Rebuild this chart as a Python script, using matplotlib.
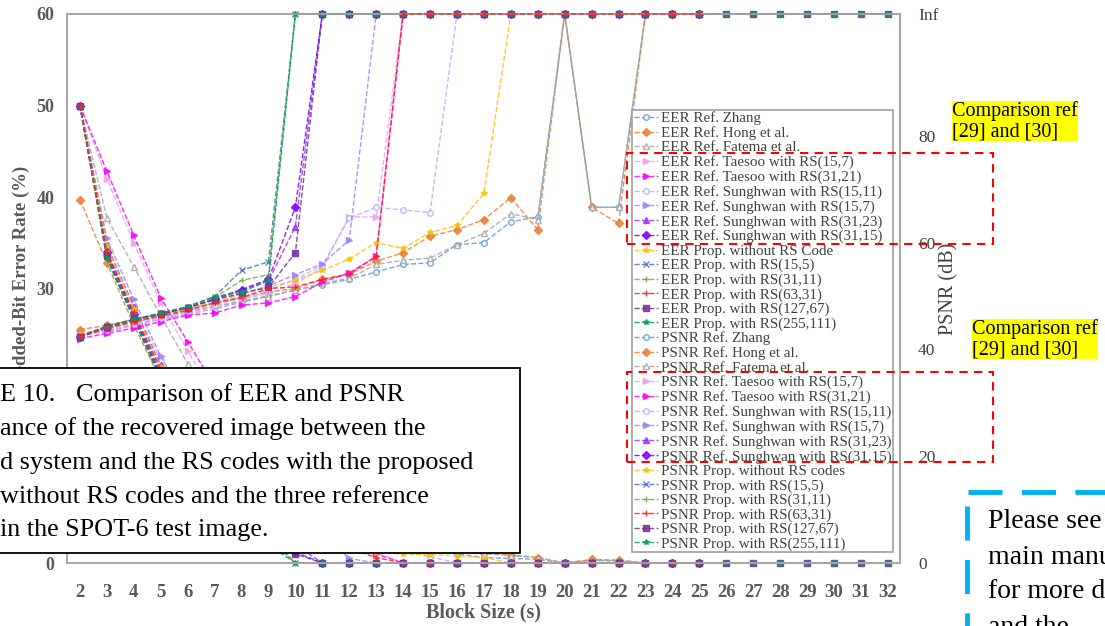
import numpy as np
import matplotlib.pyplot as plt
from matplotlib.lines import Line2D
from matplotlib.patches import Rectangle

plt.rcParams['font.family'] = ['Liberation Serif', 'DejaVu Serif']

NA = np.nan
INF = 102.8   # value printed as "Inf" on the PSNR axis

block_size = list(range(2, 33))

methods = ["Ref. Zhang", "Ref. Hong et al.", "Ref. Fatema et al.",
           "Ref. Taesoo with RS(15,7)", "Ref. Taesoo with RS(31,21)",
           "Ref. Sunghwan with RS(15,11)", "Ref. Sunghwan with RS(15,7)",
           "Ref. Sunghwan with RS(31,23)", "Ref. Sunghwan with RS(31,15)",
           "Prop. without RS Code", "Prop. with RS(15,5)", "Prop. with RS(31,11)",
           "Prop. with RS(63,31)", "Prop. with RS(127,67)", "Prop. with RS(255,111)"]

# embedded-bit error rate (%)
eer_zhang = [50.0, 33.8, 27.2, 21.0, 16.0, 12.2, 9.4, 7.2, 5.6, 4.4, 3.4, 2.7, 2.1, 1.6, 1.0, 0.6,
             0.5, 0.4, 0.0, 0.3, 0.2, 0.0, 0.0, 0.0, NA, NA, NA, NA, NA, NA, NA]
eer_hong = [39.7, 32.8, 26.0, 20.0, 15.2, 11.5, 8.8, 6.8, 5.3, 4.1, 3.2, 2.5, 2.0, 1.6, 1.3, 1.1,
            0.9, 0.6, 0.0, 0.4, 0.3, 0.0, 0.0, 0.0, NA, NA, NA, NA, NA, NA, NA]
eer_fatema = [50.0, 37.7, 32.4, 27.0, 21.8, 17.0, 13.2, 10.0, 7.6, 5.7, 4.3, 3.2, 2.4, 1.8, 1.3, 1.0,
              0.8, 0.6, 0.0, 0.3, 0.3, 0.0, 0.0, 0.0, NA, NA, NA, NA, NA, NA, NA]
eer_taesoo_15_7 = [50.0, 42.0, 35.0, 28.4, 23.2, 18.0, 13.6, 10.0, 7.0, 4.6, 2.8, 1.2, 0.0, 0.0, 0.0, 0.0,
                   0.0, 0.0, 0.0, 0.0, 0.0, 0.0, 0.0, 0.0, NA, NA, NA, NA, NA, NA, NA]
eer_taesoo_31_21 = [50.0, 42.8, 35.8, 29.0, 24.2, 19.3, 15.0, 11.4, 8.4, 6.0, 3.8, 1.0, 0.0, 0.0, 0.0, 0.0,
                    0.0, 0.0, 0.0, 0.0, 0.0, 0.0, 0.0, 0.0, NA, NA, NA, NA, NA, NA, NA]
eer_sung_15_11 = [50.0, 34.2, 28.0, 22.2, 17.2, 13.0, 9.8, 7.4, 5.5, 4.0, 2.9, 2.0, 1.3, 0.7, 0.0, 0.0,
                  0.0, 0.0, 0.0, 0.0, 0.0, 0.0, 0.0, 0.0, NA, NA, NA, NA, NA, NA, NA]
eer_sung_15_7 = [50.0, 35.5, 28.8, 22.6, 17.4, 13.0, 9.6, 6.9, 4.8, 3.2, 0.5, 0.0, 0.0, 0.0, 0.0, 0.0,
                 0.0, 0.0, 0.0, 0.0, 0.0, 0.0, 0.0, 0.0, NA, NA, NA, NA, NA, NA, NA]
eer_sung_31_23 = [50.0, 34.8, 28.0, 21.6, 16.0, 11.4, 7.6, 4.8, 2.0, 0.0, 0.0, 0.0, 0.0, 0.0, 0.0, 0.0,
                  0.0, 0.0, 0.0, 0.0, 0.0, 0.0, 0.0, 0.0, NA, NA, NA, NA, NA, NA, NA]
eer_sung_31_15 = [50.0, 34.0, 27.2, 20.6, 14.8, 10.0, 6.4, 3.8, 1.2, 0.0, 0.0, 0.0, 0.0, 0.0, 0.0, 0.0,
                  0.0, 0.0, 0.0, 0.0, 0.0, 0.0, 0.0, 0.0, NA, NA, NA, NA, NA, NA, NA]
eer_prop_none = [50.0, 34.6, 27.8, 21.4, 16.0, 11.8, 8.6, 6.3, 4.6, 3.2, 2.0, 1.1, 1.0, 0.9, 0.8, 0.6,
                 0.0, 0.0, 0.0, 0.0, 0.0, 0.0, 0.0, 0.0, NA, NA, NA, NA, NA, NA, NA]
eer_prop_15_5 = [50.0, 33.6, 27.0, 20.6, 14.6, 9.6, 5.8, 3.0, 0.0, 0.0, 0.0, 0.0, 0.0, 0.0, 0.0, 0.0,
                 0.0, 0.0, 0.0, 0.0, 0.0, 0.0, 0.0, 0.0, NA, NA, NA, NA, NA, NA, NA]
eer_prop_31_11 = [50.0, 33.3, 26.6, 20.2, 14.0, 9.0, 5.2, 2.6, 0.0, 0.0, 0.0, 0.0, 0.0, 0.0, 0.0, 0.0,
                  0.0, 0.0, 0.0, 0.0, 0.0, 0.0, 0.0, 0.0, NA, NA, NA, NA, NA, NA, NA]
eer_prop_63_31 = [50.0, 34.0, 27.4, 21.2, 15.8, 11.4, 8.0, 5.6, 3.9, 2.7, 1.6, 0.6, 0.0, 0.0, 0.0, 0.0,
                  0.0, 0.0, 0.0, 0.0, 0.0, 0.0, 0.0, 0.0, NA, NA, NA, NA, NA, NA, NA]
eer_prop_127_67 = [50.0, 33.5, 26.8, 20.4, 14.4, 9.4, 5.6, 3.0, 1.0, 0.0, 0.0, 0.0, 0.0, 0.0, 0.0, 0.0,
                   0.0, 0.0, 0.0, 0.0, 0.0, 0.0, 0.0, 0.0, 0.0, 0.0, 0.0, 0.0, 0.0, 0.0, 0.0]
eer_prop_255_111 = [50.0, 33.3, 26.6, 20.0, 13.6, 8.4, 4.6, 2.0, 0.0, 0.0, 0.0, 0.0, 0.0, 0.0, 0.0, 0.0,
                    0.0, 0.0, 0.0, 0.0, 0.0, 0.0, 0.0, 0.0, 0.0, 0.0, 0.0, 0.0, 0.0, 0.0, 0.0]

# PSNR of the recovered image (dB)
psnr_zhang = [42.8, 43.9, 45.1, 46.1, 47.1, 48.0, 49.0, 50.0, 51.1, 52.1, 53.1, 54.5, 55.9, 56.2, 59.6, 60.0,
              63.9, 64.8, INF, 66.6, 66.6, INF, INF, INF, NA, NA, NA, NA, NA, NA, NA]
psnr_hong = [43.7, 44.5, 45.6, 46.6, 47.6, 48.7, 49.7, 50.7, 51.4, 53.1, 54.1, 56.5, 58.1, 61.2, 62.4, 64.3,
             68.4, 62.4, INF, 66.6, 63.6, INF, INF, INF, NA, NA, NA, NA, NA, NA, NA]
psnr_fatema = [42.8, 43.3, 44.5, 45.6, 46.6, 47.6, 48.8, 49.9, 51.1, 52.4, 53.3, 55.9, 56.7, 57.1, 59.6, 61.7,
               65.4, 64.3, INF, 66.6, 66.6, INF, INF, INF, NA, NA, NA, NA, NA, NA, NA]
psnr_taesoo_15_7 = [42.5, 43.5, 44.5, 45.7, 46.8, 48.0, 49.3, 50.5, 52.3, 55.3, 64.8, 64.8, INF, INF, INF, INF,
                    INF, INF, INF, INF, INF, INF, INF, INF, NA, NA, NA, NA, NA, NA, NA]
psnr_taesoo_31_21 = [42.0, 43.0, 44.0, 45.2, 46.4, 46.8, 48.3, 48.7, 49.9, 52.6, 54.3, 57.4, INF, INF, INF, INF,
                     INF, INF, INF, INF, INF, INF, INF, INF, NA, NA, NA, NA, NA, NA, NA]
psnr_sung_15_11 = [42.7, 43.7, 44.7, 45.9, 47.1, 48.3, 49.7, 51.1, 53.1, 55.7, 64.6, 66.6, 66.1, 65.6, INF, INF,
                   INF, INF, INF, INF, INF, INF, INF, INF, NA, NA, NA, NA, NA, NA, NA]
psnr_sung_15_7 = [42.5, 43.9, 45.1, 46.3, 47.5, 48.8, 50.4, 51.9, 54.0, 56.0, 60.5, INF, INF, INF, INF, INF,
                  INF, INF, INF, INF, INF, INF, INF, INF, NA, NA, NA, NA, NA, NA, NA]
psnr_sung_31_23 = [42.3, 44.0, 45.4, 46.6, 47.8, 49.3, 51.1, 52.8, 63.0, INF, INF, INF, INF, INF, INF, INF,
                   INF, INF, INF, INF, INF, INF, INF, INF, NA, NA, NA, NA, NA, NA, NA]
psnr_sung_31_15 = [42.3, 44.2, 45.6, 46.6, 47.8, 49.5, 51.2, 53.1, 66.6, INF, INF, INF, INF, INF, INF, INF,
                   INF, INF, INF, INF, INF, INF, INF, INF, NA, NA, NA, NA, NA, NA, NA]
psnr_prop_none = [42.8, 44.0, 45.2, 46.3, 47.5, 48.8, 50.4, 51.7, 52.9, 54.8, 56.9, 60.0, 58.9, 61.9, 63.2, 69.2,
                  INF, INF, INF, INF, INF, INF, INF, INF, NA, NA, NA, NA, NA, NA, NA]
psnr_prop_15_5 = [42.5, 44.4, 45.6, 46.8, 48.0, 49.9, 54.8, 56.4, INF, INF, INF, INF, INF, INF, INF, INF,
                  INF, INF, INF, INF, INF, INF, INF, INF, NA, NA, NA, NA, NA, NA, NA]
psnr_prop_31_11 = [42.3, 44.2, 45.6, 46.6, 47.8, 49.7, 52.9, 54.0, INF, INF, INF, INF, INF, INF, INF, INF,
                   INF, INF, INF, INF, INF, INF, INF, INF, NA, NA, NA, NA, NA, NA, NA]
psnr_prop_63_31 = [42.5, 44.0, 45.2, 46.3, 47.3, 48.7, 49.7, 51.4, 51.7, 53.1, 54.1, 57.4, INF, INF, INF, INF,
                   INF, INF, INF, INF, INF, INF, INF, INF, NA, NA, NA, NA, NA, NA, NA]
psnr_prop_127_67 = [42.3, 44.2, 45.6, 46.6, 47.8, 49.3, 50.5, 51.6, 58.1, INF, INF, INF, INF, INF, INF, INF,
                    INF, INF, INF, INF, INF, INF, INF, INF, INF, INF, INF, INF, INF, INF, INF]
psnr_prop_255_111 = [42.3, 44.2, 45.6, 46.8, 48.0, 49.9, 50.7, 52.9, INF, INF, INF, INF, INF, INF, INF, INF,
                     INF, INF, INF, INF, INF, INF, INF, INF, INF, INF, INF, INF, INF, INF, INF]

eer_series = [eer_zhang, eer_hong, eer_fatema, eer_taesoo_15_7, eer_taesoo_31_21,
              eer_sung_15_11, eer_sung_15_7, eer_sung_31_23, eer_sung_31_15,
              eer_prop_none, eer_prop_15_5, eer_prop_31_11, eer_prop_63_31,
              eer_prop_127_67, eer_prop_255_111]
psnr_series = [psnr_zhang, psnr_hong, psnr_fatema, psnr_taesoo_15_7, psnr_taesoo_31_21,
               psnr_sung_15_11, psnr_sung_15_7, psnr_sung_31_23, psnr_sung_31_15,
               psnr_prop_none, psnr_prop_15_5, psnr_prop_31_11, psnr_prop_63_31,
               psnr_prop_127_67, psnr_prop_255_111]

colors = ['#5b9bd5', '#ed7d31', '#a5a5a5', '#f0a0f0', '#ff00ff',
          '#b0b0ff', '#a080ff', '#9933ff', '#7f00ff',
          '#ffc000', '#4472c4', '#70ad47', '#ff2020', '#7030a0', '#00a060']
markers = ['o', 'D', '^', '>', '>', 'o', '>', '^', 'D', '*', 'x', '+', '+', 's', '*']
filled = [False, True, False, True, True, False, True, True, True, True, True, True, True, True, True]

W, H = 1105, 626
fig = plt.figure(figsize=(W / 100, H / 100), dpi=100)
ax = fig.add_axes([67 / W, 63 / H, 833 / W, 549 / H])
ax2 = ax.twinx()

handles = []
for axis, group, kind in [(ax, eer_series, 'EER'), (ax2, psnr_series, 'PSNR')]:
    for i, vals in enumerate(group):
        label = f"{kind} {methods[i]}"
        if kind == 'PSNR' and i == 9:
            label = "PSNR Prop. without RS codes"
        h, = axis.plot(block_size, vals, ls='--', lw=1.0, color=colors[i], marker=markers[i],
                       ms=4, mew=1.0, mfc=colors[i] if filled[i] else 'white',
                       alpha=0.85, label=label, clip_on=False,
                       zorder=3 if i == 12 else 2)
        handles.append(h)

ax.set_xlim(1.52, 32.45)
ax.set_ylim(0, 60)
ax2.set_ylim(0, INF)

ax.set_xticks(block_size)
ax.set_xticklabels([str(b) for b in block_size], fontsize=13.5, fontweight='bold', color='#595959')
ax.set_yticks([0, 10, 20, 30, 40, 50, 60])
ax.set_yticklabels(['0', '10', '20', '30', '40', '50', '60'], fontsize=13, fontweight='bold', color='#595959')
ax2.set_yticks([0, 20, 40, 60, 80, INF])
ax2.set_yticklabels(['0', '20', '40', '60', '80', 'Inf'], fontsize=12.5, color='#404040')
ax.tick_params(axis='x', length=0, pad=15)
ax.tick_params(axis='y', length=0, pad=9)
ax2.tick_params(axis='y', length=0, pad=13)

for a in (ax, ax2):
    for s in a.spines.values():
        s.set_color('#a6a6a6')
        s.set_linewidth(1.2)

ax.set_xlabel('Block Size (s)', fontsize=14.5, fontweight='bold', color='#595959', labelpad=1)
ax.set_ylabel('Embedded-Bit Error Rate (%)', fontsize=13.5, fontweight='bold', color='#595959')
ax.yaxis.set_label_coords(-0.044, 0.5)
ax2.set_ylabel('PSNR (dB)', fontsize=14.5, color='#404040')
ax2.yaxis.set_label_coords(1.047, 0.5)

leg = ax2.legend(handles=handles, loc='upper right', bbox_to_anchor=((893 - 67) / 833, (563 - 110) / 549),
                 borderaxespad=0, fontsize=10.8, labelspacing=0.06, handlelength=1.6, handletextpad=0.2,
                 borderpad=0.1, fancybox=False, edgecolor='#a0a0a0', framealpha=1)
leg.get_frame().set_linewidth(1.2)
for t in leg.get_texts():
    t.set_color('#404040')

# red dashed boxes around the [29]/[30] legend entries
for top, bot in [(153, 244), (372, 462)]:
    fig.add_artist(Rectangle((627 / W, 1 - bot / H), (993 - 627) / W, (bot - top) / H,
                             transform=fig.transFigure, fill=False, ec='red', lw=1.5,
                             ls=(0, (4, 3)), zorder=20))

for x0, y0 in [(952, 101), (972, 319)]:
    fig.text(x0 / W, 1 - y0 / H, "Comparison ref\n[29] and [30]", ha='left', va='top', fontsize=14.5,
             linespacing=1.1, bbox=dict(facecolor='#ffff00', edgecolor='none', pad=0), zorder=21)

# caption box
fig.add_artist(Rectangle((-0.01, 1 - 553 / H), 520 / W + 0.01, (553 - 368) / H, transform=fig.transFigure,
                         fc='white', ec='black', lw=1.3, zorder=10))
cap = [(0, 395, "E 10."), (76, 395, "Comparison of EER and PSNR"),
       (0, 429, "ance of the recovered image between the"),
       (0, 463, "d system and the RS codes with the proposed"),
       (0, 497, "without RS codes and the three reference"),
       (0, 530, "in the SPOT-6 test image.")]
for x0, y0, s in cap:
    fig.text(x0 / W, 1 - y0 / H, s, ha='left', va='center', fontsize=18.8, color='black', zorder=11)

# cut-off note at bottom right
fig.add_artist(Line2D([968 / W, 1.0], [1 - 492 / H, 1 - 492 / H], transform=fig.transFigure,
                      color='#00b0f0', lw=3.5, dashes=(7, 4), zorder=20))
fig.add_artist(Line2D([967 / W, 967 / W], [1 - 506 / H, 0], transform=fig.transFigure,
                      color='#00b0f0', lw=3.5, dashes=(7, 4), zorder=20))
for y0, s in [(522, "Please see the"), (557, "main manuscript"), (592, "for more details"), (628, "and the")]:
    fig.text(988 / W, 1 - y0 / H, s, ha='left', va='center', fontsize=20, color='black', zorder=21)

fig.savefig('out.png', dpi=100)
